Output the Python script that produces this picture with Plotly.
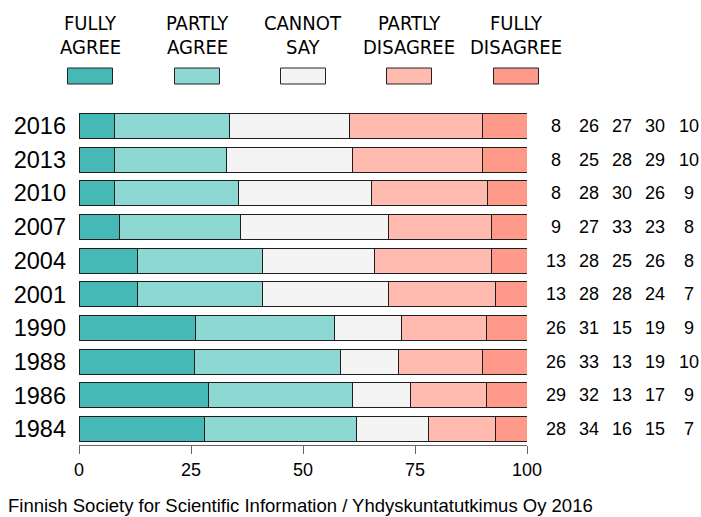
import plotly.graph_objects as go

# Survey answers by year (percent, rounded as published)
years = ["2016", "2013", "2010", "2007", "2004", "2001", "1990", "1988", "1986", "1984"]
fully_agree = [8, 8, 8, 9, 13, 13, 26, 26, 29, 28]
partly_agree = [26, 25, 28, 27, 28, 28, 31, 33, 32, 34]
cannot_say = [27, 28, 30, 33, 25, 28, 15, 13, 13, 16]
partly_disagree = [30, 29, 26, 23, 26, 24, 19, 19, 17, 15]
fully_disagree = [10, 10, 9, 8, 8, 7, 9, 10, 9, 7]

series_names = ["FULLY AGREE", "PARTLY AGREE", "CANNOT SAY", "PARTLY DISAGREE", "FULLY DISAGREE"]
legend_lines = [("FULLY", "AGREE"), ("PARTLY", "AGREE"), ("CANNOT", "SAY"),
                ("PARTLY", "DISAGREE"), ("FULLY", "DISAGREE")]
series_values = [fully_agree, partly_agree, cannot_say, partly_disagree, fully_disagree]
colors = ["#46b9b6", "#8ed8d4", "#f4f4f4", "#ffbbb0", "#ff998a"]

x_ticks = [0, 25, 50, 75, 100]
caption = "Finnish Society for Scientific Information / Yhdyskuntatutkimus Oy 2016"

# Page geometry (pixels)
W, H = 701, 517
L, R, T, B = 79, 527, 110, 445
PW, PH = R - L, B - T


def px(x):
    return (x - L) / PW


def py(y):
    return (B - y) / PH


# Each row is scaled so its bar spans the full 0-100 width
totals = [sum(v[i] for v in series_values) for i in range(len(years))]
category_order = years[::-1]  # 1984 at the bottom

fig = go.Figure()
for name, vals, col in zip(series_names, series_values, colors):
    fig.add_trace(go.Bar(
        y=years,
        x=[v * 100.0 / t for v, t in zip(vals, totals)],
        orientation="h",
        name=name,
        width=0.74,
        marker=dict(color=col, line=dict(color="#1e1e1e", width=1)),
        showlegend=False,
        hoverinfo="skip",
    ))

annotations = []
shapes = []

# Legend: two-line caption above a colour box per series
legend_font = dict(family="Liberation Sans Narrow, DejaVu Sans Condensed, Liberation Sans, Arial",
                   size=20, color="#000")
legend_centers = [90, 197, 303, 409, 516]
for (l1, l2), col, cx in zip(legend_lines, colors, legend_centers):
    for txt, yc in ((l1, 23.5), (l2, 47)):
        annotations.append(dict(
            text=txt, x=px(cx), y=py(yc), xref="paper", yref="paper",
            xanchor="center", yanchor="middle", showarrow=False, font=legend_font,
        ))
    shapes.append(dict(
        type="rect", xref="paper", yref="paper",
        x0=px(cx - 22.5), x1=px(cx + 22.5), y0=py(84), y1=py(68),
        fillcolor=col, line=dict(color="#222", width=1),
    ))

# Values printed to the right of each bar
value_cols = [556, 589, 622, 655, 689]
for i, yr in enumerate(years):
    for vals, cx in zip(series_values, value_cols):
        annotations.append(dict(
            text=str(vals[i]), x=px(cx), y=category_order.index(yr),
            xref="paper", yref="y",
            xanchor="center", yanchor="middle", showarrow=False,
            font=dict(family="Liberation Sans, Arial", size=18, color="#000"),
        ))

annotations.append(dict(
    text=caption, x=px(6), y=py(505.5), xref="paper", yref="paper",
    xanchor="left", yanchor="middle", showarrow=False,
    font=dict(family="Liberation Sans, Arial", size=18.5, color="#000"),
))

fig.update_layout(
    width=W, height=H,
    margin=dict(l=L, r=W - R, t=T, b=H - B, pad=0),
    barmode="stack",
    paper_bgcolor="white",
    plot_bgcolor="white",
    font=dict(family="Liberation Sans, Arial", color="#000"),
    annotations=annotations,
    shapes=shapes,
    xaxis=dict(
        range=[0, 100], tickvals=x_ticks, ticktext=[str(t) for t in x_ticks],
        showgrid=False, zeroline=False, showline=True, linecolor="#666", linewidth=1,
        ticks="outside", ticklen=8, tickcolor="#666", tickwidth=1,
        tickfont=dict(size=18, color="#000"),
    ),
    yaxis=dict(
        type="category",
        categoryorder="array", categoryarray=category_order,
        range=[-0.47, 9.47],
        showgrid=False, zeroline=False, showline=False, ticks="",
        tickfont=dict(size=23.5, color="#000"),
        ticklabelstandoff=12,
    ),
)

fig.write_html("out.html")
